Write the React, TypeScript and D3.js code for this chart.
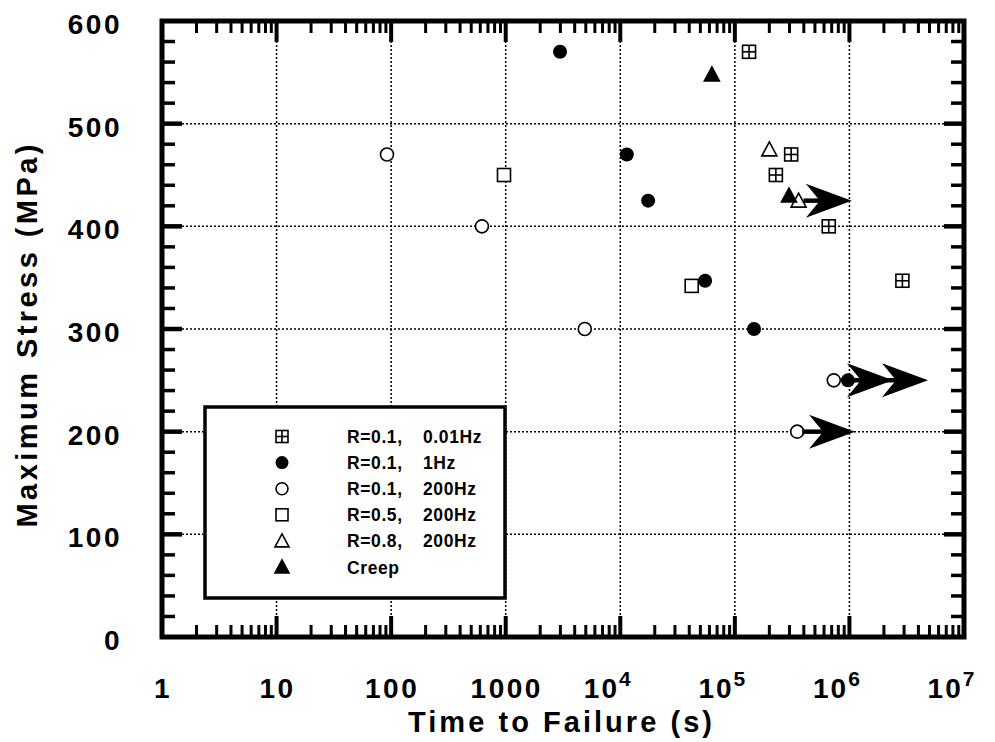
import React from 'react';
import * as d3 from 'd3';

const W = 995;
const H = 742;
const FONT = "'Liberation Sans', Arial, Helvetica, sans-serif";

// ---- data: [time to failure (s), maximum stress (MPa)] ----
const r01_001Hz: [number, number][] = [[1.33e5, 570], [3.1e5, 470], [2.28e5, 450], [6.6e5, 400], [2.9e6, 347]];
const r01_1Hz: [number, number][] = [[2980, 570], [1.14e4, 470], [1.75e4, 425], [5.5e4, 347], [1.47e5, 300], [9.7e5, 250]];
const r01_200Hz: [number, number][] = [[92, 470], [620, 400], [4900, 300], [7.3e5, 250], [3.5e5, 200]];
const r05_200Hz: [number, number][] = [[966, 450], [4.2e4, 342]];
const r08_200Hz: [number, number][] = [[2.0e5, 475], [3.6e5, 425]];
const creep: [number, number][] = [[6.3e4, 548], [2.97e5, 430]];

// run-out arrows: stress, start time, arrow tip times
const arrowStress = [425, 250, 200];
const arrowFrom = [3.6e5, 9.7e5, 3.5e5];
const arrowTips = [[1.05e6], [2.4e6, 4.85e6], [1.12e6]];

const legendCol1 = ['R=0.1,', 'R=0.1,', 'R=0.1,', 'R=0.5,', 'R=0.8,', 'Creep'];
const legendCol2 = ['0.01Hz', '1Hz', '200Hz', '200Hz', '200Hz', ''];
const seriesKinds = ['crossSquare', 'filledCircle', 'openCircle', 'openSquare', 'openTriangle', 'filledTriangle'];
const seriesData = [r01_001Hz, r01_1Hz, r01_200Hz, r05_200Hz, r08_200Hz, creep];

const yTickValues = [0, 100, 200, 300, 400, 500, 600];
const xTickExps = [0, 1, 2, 3, 4, 5, 6, 7];
const xTickPlain = ['1', '10', '100', '1000'];

const xAxisTitle = 'Time to Failure (s)';
const yAxisTitle = 'Maximum Stress (MPa)';

const x = d3.scaleLog().domain([1, 1e7]).range([162, 964]);
const y = d3.scaleLinear().domain([0, 600]).range([637, 21]);

function Marker({ kind, cx, cy, s }: { kind: string; cx: number; cy: number; s: number }) {
  const h = s / 2;
  const sw = 1.6;
  switch (kind) {
    case 'crossSquare':
      return (
        <g stroke="#000" strokeWidth={sw} fill="#fff">
          <rect x={cx - h} y={cy - h} width={s} height={s} />
          <line x1={cx} x2={cx} y1={cy - h} y2={cy + h} />
          <line x1={cx - h} x2={cx + h} y1={cy} y2={cy} />
        </g>
      );
    case 'filledCircle':
      return <circle cx={cx} cy={cy} r={h + 0.5} fill="#000" />;
    case 'openCircle':
      return <circle cx={cx} cy={cy} r={h} fill="#fff" stroke="#000" strokeWidth={sw} />;
    case 'openSquare':
      return <rect x={cx - h} y={cy - h} width={s} height={s} fill="#fff" stroke="#000" strokeWidth={sw} />;
    case 'openTriangle':
    case 'filledTriangle': {
      const filled = kind === 'filledTriangle';
      const pts = `${cx},${cy - h - 1} ${cx + h + 1},${cy + h} ${cx - h - 1},${cy + h}`;
      return <polygon points={pts} fill={filled ? '#000' : '#fff'} stroke="#000" strokeWidth={sw} strokeLinejoin="miter" />;
    }
    default:
      return null;
  }
}

function ArrowHead({ tipX, cy }: { tipX: number; cy: number }) {
  const L = 46;
  const hw = 17;
  const n = 14;
  const d = `M${tipX},${cy} L${tipX - L},${cy - hw} L${tipX - L + n},${cy} L${tipX - L},${cy + hw} Z`;
  return <path d={d} fill="#000" />;
}

export default function App() {
  const L = x.range()[0];
  const R = x.range()[1];
  const T = y.range()[1];
  const B = y.range()[0];

  const yMinor = d3.range(20, 600, 20).filter((v) => v % 100 !== 0);
  const yMajor = yTickValues.filter((v) => v > 0 && v < 600);
  const xMinor: number[] = [];
  for (let e = 0; e < 7; e++) for (let k = 2; k <= 9; k++) xMinor.push(k * Math.pow(10, e));
  const xMajor = xTickExps.filter((e) => e > 0 && e < 7).map((e) => Math.pow(10, e));

  const legendX = 205, legendY = 407, legendW = 300, legendH = 191;
  const rowY0 = 443, rowStep = 26.1;

  return (
    <svg width={W} height={H} style={{ position: 'absolute', left: 0, top: 0, background: '#fff' }} fontFamily={FONT}>
      <rect x={0} y={0} width={W} height={H} fill="#fff" />
      {/* grid */}
      <g stroke="#000" strokeWidth={1.5} strokeDasharray="2 2">
        {xMajor.map((t) => (
          <line key={'gx' + t} x1={x(t)} x2={x(t)} y1={T} y2={B} />
        ))}
        {yMajor.map((v) => (
          <line key={'gy' + v} x1={L} x2={R} y1={y(v)} y2={y(v)} />
        ))}
      </g>

      {/* legend box */}
      <rect x={legendX} y={legendY} width={legendW} height={legendH} fill="#fff" stroke="#000" strokeWidth={3.5} />
      {legendCol1.map((lab, i) => {
        const by = rowY0 + i * rowStep;
        return (
          <g key={'lg' + i}>
            <Marker kind={seriesKinds[i]} cx={282} cy={by - 6.5} s={12} />
            <text x={347} y={by} fontSize={17.5} fontWeight="bold" letterSpacing={0.6}>{lab}</text>
            {legendCol2[i] && (
              <text x={423} y={by} fontSize={17.5} fontWeight="bold" letterSpacing={0.6}>{legendCol2[i]}</text>
            )}
          </g>
        );
      })}

      {/* data markers */}
      {seriesData.map((ser, i) =>
        ser.map(([t, s], j) => <Marker key={`m${i}-${j}`} kind={seriesKinds[i]} cx={x(t)} cy={y(s)} s={13} />)
      )}

      {/* run-out arrows */}
      {arrowStress.map((s, i) => {
        const cy = y(s);
        const tips = arrowTips[i];
        const lastTip = x(tips[tips.length - 1]);
        return (
          <g key={'ar' + i}>
            <line x1={x(arrowFrom[i]) + 5} x2={lastTip - 30} y1={cy} y2={cy} stroke="#000" strokeWidth={4.5} />
            {tips.map((t, k) => (
              <ArrowHead key={k} tipX={x(t)} cy={cy} />
            ))}
          </g>
        );
      })}

      {/* ticks */}
      <g stroke="#000">
        {yMinor.map((v) => (
          <g key={'ym' + v} strokeWidth={3.5}>
            <line x1={L} x2={L + 13} y1={y(v)} y2={y(v)} />
            <line x1={R} x2={R - 13} y1={y(v)} y2={y(v)} />
          </g>
        ))}
        {yMajor.map((v) => (
          <g key={'yM' + v} strokeWidth={4.5}>
            <line x1={L} x2={L + 20} y1={y(v)} y2={y(v)} />
            <line x1={R} x2={R - 20} y1={y(v)} y2={y(v)} />
          </g>
        ))}
        {xMinor.map((t) => (
          <g key={'xm' + t} strokeWidth={3}>
            <line x1={x(t)} x2={x(t)} y1={B} y2={B - 12} />
            <line x1={x(t)} x2={x(t)} y1={T} y2={T + 12} />
          </g>
        ))}
        {xMajor.map((t) => (
          <g key={'xM' + t} strokeWidth={4}>
            <line x1={x(t)} x2={x(t)} y1={B} y2={B - 21} />
            <line x1={x(t)} x2={x(t)} y1={T} y2={T + 21} />
          </g>
        ))}
      </g>

      {/* frame */}
      <rect x={L} y={T} width={R - L} height={B - T} fill="none" stroke="#000" strokeWidth={5} />

      {/* y tick labels */}
      {yTickValues.map((v) => (
        <text key={'yl' + v} x={122} y={y(v) + 13} textAnchor="end" fontSize={28} fontWeight="bold" letterSpacing={2.5}>
          {v}
        </text>
      ))}

      {/* x tick labels */}
      {xTickExps.map((e) => {
        const px = x(Math.pow(10, e));
        if (e < xTickPlain.length) {
          return (
            <text key={'xl' + e} x={px + 1} y={698} textAnchor="middle" fontSize={28} fontWeight="bold" letterSpacing={2.5}>
              {xTickPlain[e]}
            </text>
          );
        }
        return (
          <text key={'xl' + e} x={px - 12} y={698} textAnchor="middle" fontSize={28} fontWeight="bold" letterSpacing={2}>
            10
            <tspan fontSize={21} dy={-12}>{e}</tspan>
          </text>
        );
      })}

      {/* axis titles */}
      <text x={560} y={732} textAnchor="middle" fontSize={29} fontWeight="bold" textLength={304} lengthAdjust="spacing">
        {xAxisTitle}
      </text>
      <text
        transform={`translate(37,336) rotate(-90)`}
        textAnchor="middle"
        fontSize={29}
        fontWeight="bold"
        textLength={383}
        lengthAdjust="spacing"
      >
        {yAxisTitle}
      </text>
    </svg>
  );
}
